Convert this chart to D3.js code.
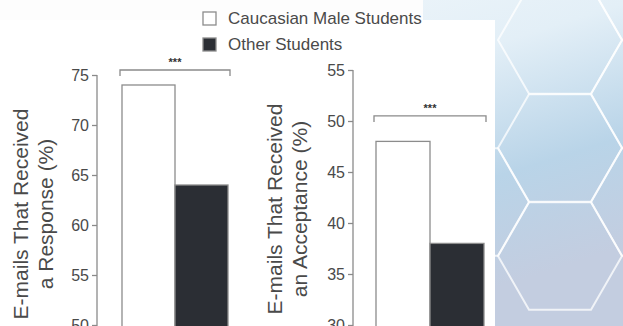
<!DOCTYPE html>
<html>
<head>
<meta charset="utf-8">
<script src="https://cdn.jsdelivr.net/npm/d3@7"></script>
<style>
    body { margin: 0; background: #ffffff; }
    svg { display: block; font-family: "Liberation Sans", Arial, Helvetica, sans-serif; }
</style>
</head>
<body>
<script>
// data
const groups = ["Caucasian Male Students", "Other Students"];
const groupColors = ["#ffffff", "#2b2e34"];
const responseRate = [74, 64];
const acceptanceRate = [48, 38];
const responseTicks = [50, 55, 60, 65, 70, 75];
const acceptanceTicks = [30, 35, 40, 45, 50, 55];
const responseLabel = ["E-mails That Received", "a Response (%)"];
const acceptanceLabel = ["E-mails That Received", "an Acceptance (%)"];
const sigMark = "***";

const width = 623, height = 326;

let svg = d3.select("body").append("svg")
    .attr("width", width)
    .attr("height", height)
    .attr("viewBox", "0 0 " + width + " " + height);

// background: pale blue hexagon pattern behind the chart
let defs = svg.append("defs");
let grad = defs.append("linearGradient")
    .attr("id", "bg")
    .attr("x1", "0").attr("y1", "0").attr("x2", "0.6").attr("y2", "1");
grad.append("stop").attr("offset", "0").attr("stop-color", "#f6fafc");
grad.append("stop").attr("offset", "0.45").attr("stop-color", "#e3eff7");
grad.append("stop").attr("offset", "0.75").attr("stop-color", "#b9d4e8");
grad.append("stop").attr("offset", "1").attr("stop-color", "#c3cde0");

svg.append("rect")
    .attr("width", width).attr("height", height)
    .attr("fill", "url(#bg)");

// a few hexagon outlines, decorative
let hexR = 62;
let hexPath = function (cx, cy) {
    let pts = d3.range(6).map(i => {
        let a = Math.PI / 3 * i;
        return [cx + hexR * Math.cos(a), cy + hexR * Math.sin(a)];
    });
    return "M" + pts.join("L") + "Z";
};
let hexCenters = [[560, 40], [653, 94], [560, 148], [653, 202], [560, 256], [467, 202], [653, -14]];
svg.append("g")
    .selectAll("path")
    .data(hexCenters)
    .join("path")
    .attr("d", d => hexPath(d[0], d[1]))
    .attr("fill", "none")
    .attr("stroke", "#ffffff")
    .attr("stroke-opacity", 0.75)
    .attr("stroke-width", 2);

// white panels the chart sits on
svg.append("rect").attr("x", 0).attr("y", 0).attr("width", 423).attr("height", 53).attr("fill", "#fdfdfd");
svg.append("rect").attr("x", 0).attr("y", 20).attr("width", 495).attr("height", height - 20).attr("fill", "#ffffff");

const textColor = "#4a4a4a";
const axisColor = "#8a8a8a";

function drawPanel(opt) {
    let g = svg.append("g");

    let y = d3.scaleLinear()
        .domain(d3.extent(opt.ticks))
        .range([opt.bottom, opt.top]);

    let x = d3.scaleBand()
        .domain(groups)
        .range([opt.barLeft, opt.barRight])
        .paddingInner(0);

    // bars
    g.append("g")
        .selectAll("rect")
        .data(opt.values)
        .join("rect")
        .attr("x", (d, i) => x(groups[i]))
        .attr("y", d => y(d))
        .attr("width", x.bandwidth())
        .attr("height", d => opt.bottom + 10 - y(d))
        .attr("fill", (d, i) => groupColors[i])
        .attr("stroke", "#8c8c8c")
        .attr("stroke-width", 1.3);

    // y axis
    let axis = g.append("g")
        .attr("transform", "translate(" + opt.axisX + ",0)")
        .call(d3.axisLeft(y).tickValues(opt.ticks).tickSize(5).tickPadding(3).tickSizeOuter(0));
    axis.select(".domain").attr("stroke", axisColor).attr("stroke-width", 1.3)
        .attr("d", "M0," + (opt.top) + "V" + (opt.bottom + 10));
    axis.selectAll(".tick line").attr("stroke", axisColor).attr("stroke-width", 1.3);
    axis.selectAll(".tick text")
        .attr("fill", textColor)
        .style("font-size", "16px");

    // axis title, two lines rotated
    let title = g.append("text")
        .attr("transform", "translate(" + opt.titleX + "," + opt.titleY + ") rotate(-90)")
        .attr("text-anchor", "middle")
        .attr("fill", textColor)
        .style("font-size", "21px");
    opt.label.forEach((line, i) => {
        title.append("tspan")
            .attr("x", 0)
            .attr("dy", i === 0 ? 0 : 25)
            .text(line);
    });

    // significance bracket
    let bx0 = x(groups[0]) - 2, bx1 = x(groups[1]) + x.bandwidth() + 2;
    let by = y(opt.bracketAt);
    g.append("path")
        .attr("d", "M" + bx0 + "," + (by + 6) + "V" + by + "H" + bx1 + "V" + (by + 6))
        .attr("fill", "none")
        .attr("stroke", axisColor)
        .attr("stroke-width", 1.3);
    g.append("text")
        .attr("x", (bx0 + bx1) / 2)
        .attr("y", by - 4)
        .attr("text-anchor", "middle")
        .attr("fill", "#333")
        .style("font-size", "11px")
        .style("font-weight", "bold")
        .text(sigMark);
}

drawPanel({
    values: responseRate,
    ticks: responseTicks,
    label: responseLabel,
    top: 75, bottom: 325,
    axisX: 97,
    barLeft: 122, barRight: 228,
    titleX: 28, titleY: 214,
    bracketAt: 75.5
});

drawPanel({
    values: acceptanceRate,
    ticks: acceptanceTicks,
    label: acceptanceLabel,
    top: 70, bottom: 325,
    axisX: 353,
    barLeft: 376, barRight: 484,
    titleX: 282, titleY: 209,
    bracketAt: 50.5
});

// legend
let legend = svg.append("g").attr("transform", "translate(203,12)");
let item = legend.selectAll("g")
    .data(groups)
    .join("g")
    .attr("transform", (d, i) => "translate(0," + (i * 26) + ")");
item.append("rect")
    .attr("width", 13).attr("height", 13)
    .attr("fill", (d, i) => groupColors[i])
    .attr("stroke", "#8c8c8c")
    .attr("stroke-width", 1.3);
item.append("text")
    .attr("x", 25)
    .attr("y", 12)
    .attr("fill", textColor)
    .style("font-size", "17px")
    .text(d => d);
</script>
</body>
</html>
